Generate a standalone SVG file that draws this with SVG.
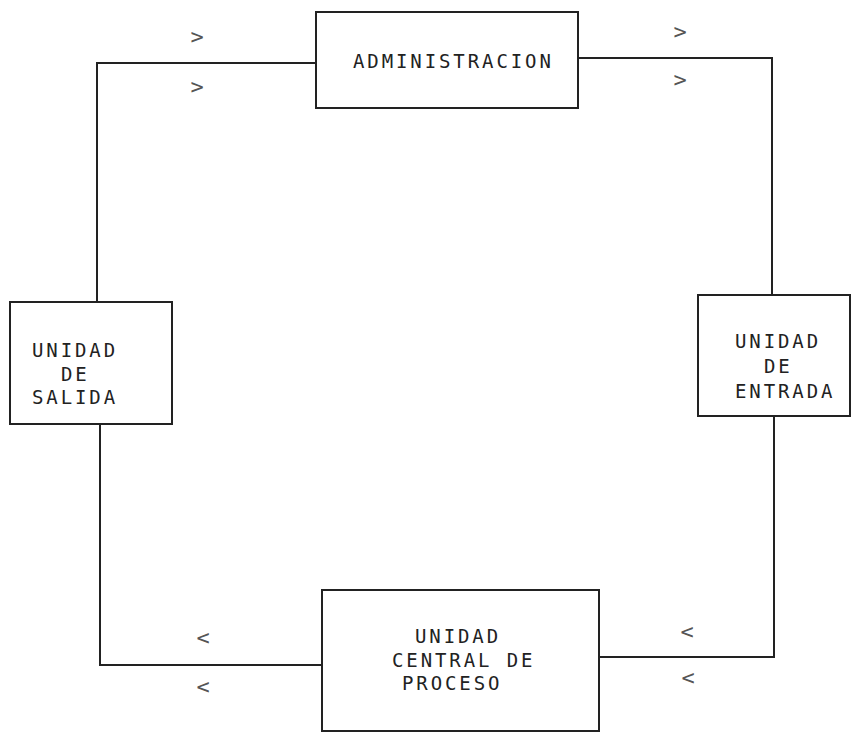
<svg xmlns="http://www.w3.org/2000/svg" width="853" height="734" viewBox="0 0 853 734">
<style>
.box{fill:#fff;stroke:#222;stroke-width:2}
.ln{fill:none;stroke:#222;stroke-width:2}
.t{font-family:"DejaVu Sans Mono","Liberation Mono",monospace;font-size:19px;letter-spacing:2.9px;fill:#222}
.ch{font-family:"DejaVu Sans Mono","Liberation Mono",monospace;font-size:22px;fill:#555;text-anchor:middle}
</style>
<rect width="853" height="734" fill="#fff"/>
<g id="connectors">
<polyline class="ln" points="316,63 97,63 97,302"/>
<polyline class="ln" points="578,58 772,58 772,295"/>
<polyline class="ln" points="100,424 100,665 322,665"/>
<polyline class="ln" points="774,416 774,657 599,657"/>
<text class="ch" x="197" y="44">&gt;</text>
<text class="ch" x="197" y="94">&gt;</text>
<text class="ch" x="680" y="39">&gt;</text>
<text class="ch" x="680" y="87">&gt;</text>
<text class="ch" x="203" y="645">&lt;</text>
<text class="ch" x="203" y="694">&lt;</text>
<text class="ch" x="687" y="639">&lt;</text>
<text class="ch" x="688" y="685">&lt;</text>
</g>
<g id="administracion">
<rect class="box" x="316" y="12" width="262" height="96"/>
<text class="t" x="353" y="68">ADMINISTRACION</text>
</g>
<g id="unidad-salida">
<rect class="box" x="10" y="302" width="162" height="122"/>
<text class="t" x="32" y="357">UNIDAD</text>
<text class="t" x="61" y="381">DE</text>
<text class="t" x="32" y="404">SALIDA</text>
</g>
<g id="unidad-entrada">
<rect class="box" x="698" y="295" width="152" height="121"/>
<text class="t" x="735" y="348">UNIDAD</text>
<text class="t" x="764" y="373">DE</text>
<text class="t" x="735" y="398">ENTRADA</text>
</g>
<g id="unidad-central">
<rect class="box" x="322" y="590" width="277" height="141"/>
<text class="t" x="415" y="643">UNIDAD</text>
<text class="t" x="392" y="667">CENTRAL DE</text>
<text class="t" x="402" y="690">PROCESO</text>
</g>
</svg>
